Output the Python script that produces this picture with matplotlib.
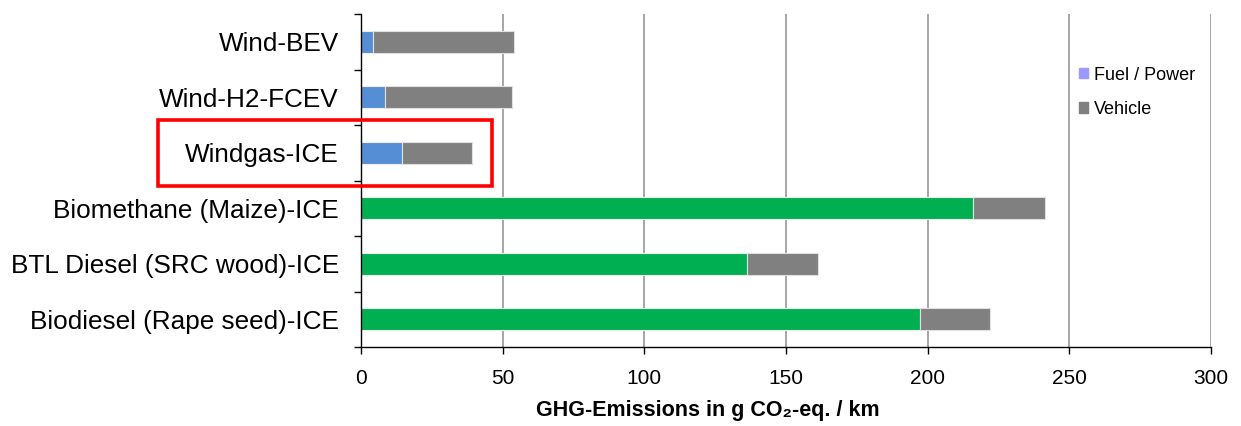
import matplotlib
matplotlib.use("Agg")
import matplotlib.pyplot as plt
import matplotlib.patches as mpatches

plt.rcParams["font.family"] = ["Liberation Sans", "DejaVu Sans"]

# ── Daten ──
categories = [
    "Wind-BEV",
    "Wind-H2-FCEV",
    "Windgas-ICE",
    "Biomethane (Maize)-ICE",
    "BTL Diesel (SRC wood)-ICE",
    "Biodiesel (Rape seed)-ICE",
]
fuel_power = [4.2, 8.5, 14.4, 216.0, 136.2, 197.2]
vehicle = [49.8, 44.8, 24.8, 25.3, 25.1, 24.9]
fuel_colors = ["#558ED5", "#558ED5", "#558ED5", "#00B050", "#00B050", "#00B050"]
xticks = [0, 50, 100, 150, 200, 250, 300]

BLUE_LEG = "#9999FF"
GREY = "#808080"
GRID = "#A6A6A6"


def draw_chart():
    fig = plt.figure(figsize=(12.41, 4.26), dpi=100)
    ax = fig.add_axes([0.2909, 0.1854, 0.6849, 0.7816])

    ypos = list(range(len(categories)))
    ax.barh(ypos, fuel_power, height=0.4, color=fuel_colors,
            edgecolor="#EEEEEE", linewidth=0.8, zorder=3)
    ax.barh(ypos, vehicle, left=fuel_power, height=0.4, color=GREY,
            edgecolor="#E0E0E0", linewidth=0.8, zorder=3)

    ax.set_xlim(0, 300)
    ax.set_ylim(len(categories) - 0.5, -0.5)

    # ── Achsen ──
    ax.set_xticks(xticks)
    ax.set_xticklabels([str(v) for v in xticks], fontsize=15)
    ax.tick_params(axis="x", direction="out", length=5, width=1, pad=11,
                   color="black")
    ax.set_yticks(ypos)
    ax.set_yticklabels(categories, fontsize=18.8)
    ax.tick_params(axis="y", which="major", length=0, pad=16)
    ax.set_yticks([i - 0.5 for i in range(len(categories) + 1)], minor=True)
    ax.tick_params(axis="y", which="minor", length=5, width=1,
                   direction="out", color="black")

    ax.xaxis.grid(True, color=GRID, linewidth=1.4, zorder=0)
    ax.set_axisbelow(True)
    for side in ["top", "right"]:
        ax.spines[side].set_visible(False)
    for side in ["left", "bottom"]:
        ax.spines[side].set_color("black")
        ax.spines[side].set_linewidth(1.0)
        ax.spines[side].set_zorder(4)

    ax.set_xlabel("GHG-Emissions in g CO\u2082-eq. / km", fontsize=15.5,
                  fontweight="bold")
    ax.xaxis.set_label_coords(0.408, -0.16)

    # ── Legende ──
    handles = [
        mpatches.Patch(color=BLUE_LEG, label="Fuel / Power"),
        mpatches.Patch(color=GREY, label="Vehicle"),
    ]
    ax.legend(handles=handles, loc="center left", bbox_to_anchor=(0.845, 0.765),
              frameon=False, fontsize=13, handlelength=0.5,
              handleheight=0.5, handletextpad=0.3, labelspacing=0.95,
              borderpad=0, borderaxespad=0)

    # ── Roter Rahmen um Windgas-ICE ──
    rect = mpatches.Rectangle((0.1273, 0.5634), 0.2691, 0.1549,
                              transform=fig.transFigure, fill=False,
                              edgecolor="#FF0000", linewidth=2.6,
                              clip_on=False, zorder=10)
    fig.patches.append(rect)

    fig.savefig("out.png", dpi=100, facecolor="white")


if __name__ == "__main__":
    draw_chart()
